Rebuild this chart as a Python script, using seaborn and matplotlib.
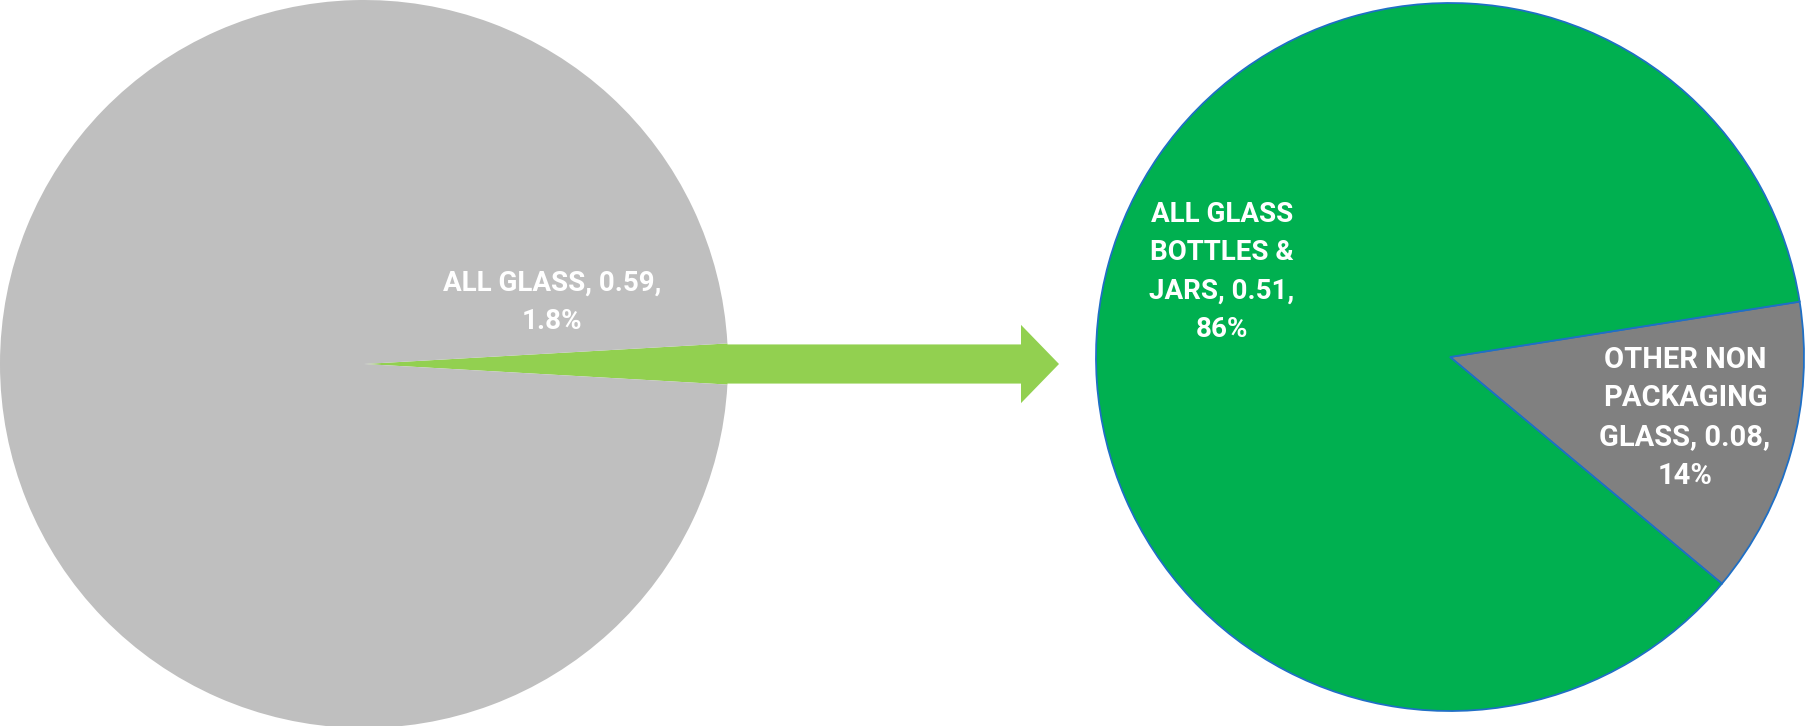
import math
import matplotlib
matplotlib.use("Agg")
import matplotlib.pyplot as plt
from matplotlib import font_manager
from matplotlib.font_manager import FontProperties
from matplotlib.patches import Polygon
import seaborn as sns

# Left pie: glass share of the whole waste stream
total_labels = ["ALL GLASS", "OTHER MATERIALS"]
total_values = [0.59, 32.2]

# Right pie: breakdown of the glass slice
glass_labels = ["OTHER NON\nPACKAGING\nGLASS", "ALL GLASS\nBOTTLES &\nJARS"]
glass_values = [0.08, 0.51]

GREY_LIGHT = "#BFBFBF"
GREEN_LIGHT = "#92D050"
GREEN = "#00B050"
GREY_DARK = "#808080"
EDGE_BLUE = "#1F6FC5"

sns.set_theme(style="white")


def _is_bold(entry):
    w = entry.weight
    return (isinstance(w, int) and w >= 700) or (isinstance(w, str) and "bold" in w.lower())


def narrow_bold(size):
    """Bold narrow face when one is installed, otherwise a compact bold sans."""
    for f in font_manager.fontManager.ttflist:
        if f.name == "Liberation Sans Narrow" and _is_bold(f):
            return FontProperties(fname=f.fname, size=size + 2)
    return FontProperties(family="Roboto", weight="bold", size=size)


label_font = narrow_bold(20)
wide_font = FontProperties(family="Roboto", weight="bold", size=21)

W, H = 1805, 726
fig = plt.figure(figsize=(W / 100, H / 100), dpi=100)
ax = fig.add_axes([0, 0, 1, 1])

# Left pie, small slice centred on the 3 o'clock direction
left_c, left_r = (364, H - 364), 364
small_angle = 360 * total_values[0] / sum(total_values)
ax.pie(total_values, colors=[GREEN_LIGHT, GREY_LIGHT], startangle=-small_angle / 2,
       center=left_c, radius=left_r, frame=True,
       wedgeprops=dict(linewidth=0))

# Right pie with a thin blue outline
right_c, right_r = (1450, H - 357), 354
grey_angle = 360 * glass_values[0] / sum(glass_values)
ax.pie(glass_values, colors=[GREY_DARK, GREEN], startangle=9.0 - grey_angle,
       center=right_c, radius=right_r, frame=True,
       wedgeprops=dict(linewidth=1.3, edgecolor=EDGE_BLUE))

# Connector arrow leaving the small slice
half_body = left_r * math.tan(math.radians(small_angle / 2)) * 0.95
x0 = left_c[0] + left_r - 1
x1, x2 = 1021, 1059
cy = left_c[1]
arrow = Polygon([(x0, cy + half_body), (x1, cy + half_body), (x1, cy + 2 * half_body),
                 (x2, cy), (x1, cy - 2 * half_body), (x1, cy - half_body),
                 (x0, cy - half_body)], closed=True, facecolor=GREEN_LIGHT,
                edgecolor="none", zorder=3)
ax.add_patch(arrow)

# Data labels
tot = sum(total_values)
ax.text(552, H - 302, f"{total_labels[0]}, {total_values[0]:.2f},\n{100 * total_values[0] / tot:.1f}%",
        ha="center", va="center", color="white", fontproperties=label_font,
        linespacing=1.55, zorder=4)

gtot = sum(glass_values)
ax.text(1222, H - 272, f"{glass_labels[1]}, {glass_values[1]:.2f},\n{100 * glass_values[1] / gtot:.0f}%",
        ha="center", va="center", color="white", fontproperties=label_font,
        linespacing=1.55, zorder=4)
ax.text(1685, H - 418, f"{glass_labels[0]}, {glass_values[0]:.2f},\n{100 * glass_values[0] / gtot:.0f}%",
        ha="center", va="center", color="white", fontproperties=wide_font,
        linespacing=1.5, zorder=4)

ax.set_xlim(0, W)
ax.set_ylim(0, H)
ax.set_aspect("auto")
ax.axis("off")

fig.savefig("out.png", dpi=100, facecolor="white")
